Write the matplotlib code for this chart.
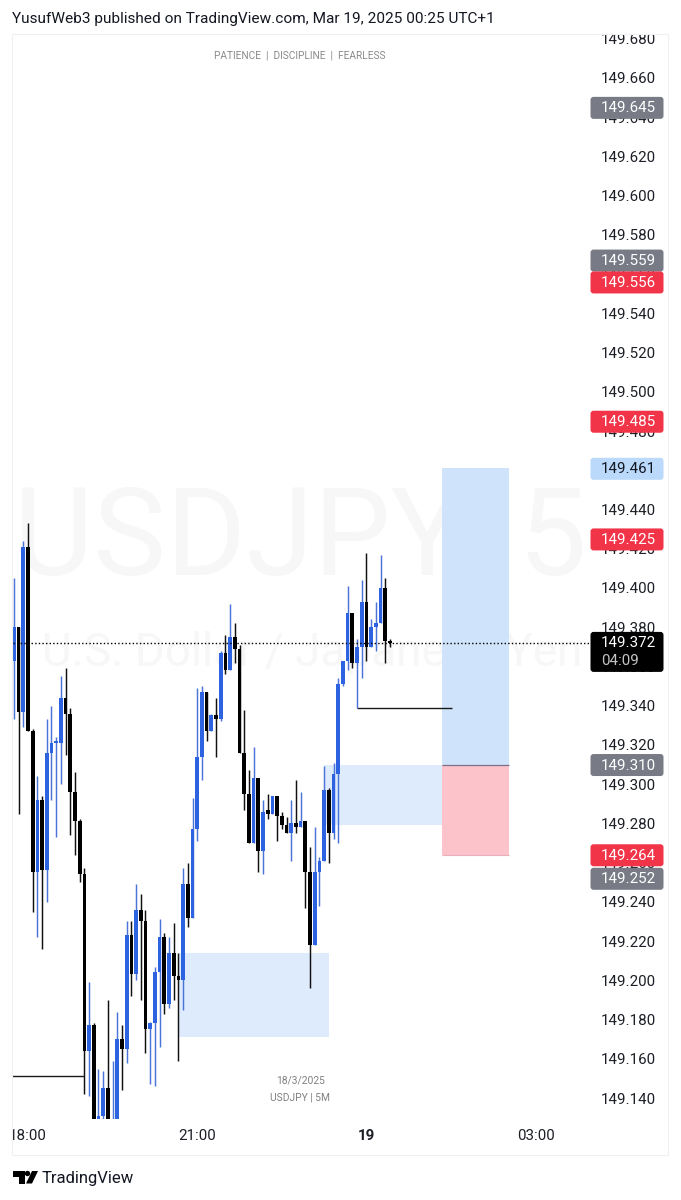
import matplotlib
matplotlib.use("Agg")
import matplotlib.pyplot as plt
from matplotlib.patches import Rectangle, FancyBboxPatch, Polygon, Circle
from matplotlib.transforms import IdentityTransform, Bbox

plt.rcParams['font.family'] = ['Roboto', 'DejaVu Sans']

opens = [149.363,149.380,149.337,149.421,149.327,149.255,149.292,149.256,149.316,149.321,
         149.321,149.344,149.336,149.296,149.281,149.254,149.164,149.177,149.129,149.131,
         149.145,149.105,149.125,149.170,149.165,149.223,149.203,149.236,149.230,149.175,
         149.178,149.204,149.222,149.188,149.214,149.202,149.200,149.249,149.232,149.277,
         149.314,149.347,149.327,149.335,149.333,149.367,149.358,149.375,149.369,149.316,
         149.295,149.270,149.303,149.266,149.287,149.285,149.294,149.284,149.279,149.275,
         149.280,149.278,149.281,149.255,149.218,149.255,149.261,149.297,149.275,149.305,
         149.351,149.363,149.387,149.362,149.370,149.393,149.370,149.380,149.382,149.400,
         149.373]
highs = [149.405,149.380,149.424,149.433,149.328,149.304,149.294,149.333,149.340,149.324,
         149.355,149.359,149.339,149.306,149.282,149.257,149.199,149.178,149.155,149.154,
         149.190,149.159,149.184,149.177,149.230,149.230,149.249,149.244,149.236,149.179,
         149.207,149.231,149.224,149.222,149.229,149.214,149.257,149.260,149.293,149.349,
         149.350,149.347,149.336,149.344,149.368,149.376,149.392,149.382,149.371,149.338,
         149.307,149.319,149.303,149.292,149.295,149.294,149.294,149.286,149.283,149.292,
         149.302,149.296,149.281,149.268,149.278,149.263,149.309,149.298,149.311,149.354,
         149.363,149.401,149.387,149.374,149.404,149.418,149.384,149.393,149.417,149.405,
         149.374]
lows = [149.333,149.285,149.329,149.327,149.235,149.222,149.216,149.240,149.292,149.273,
        149.300,149.315,149.274,149.264,149.250,149.142,149.141,149.120,149.125,149.125,
        149.120,149.100,149.120,149.144,149.158,149.192,149.200,149.190,149.163,149.147,
        149.146,149.166,149.183,149.186,149.190,149.159,149.185,149.227,149.232,149.271,
        149.302,149.322,149.327,149.314,149.332,149.356,149.358,149.362,149.316,149.287,
        149.270,149.270,149.255,149.254,149.282,149.285,149.271,149.277,149.275,149.261,
        149.275,149.278,149.237,149.196,149.218,149.238,149.261,149.260,149.272,149.270,
        149.350,149.358,149.359,149.339,149.354,149.363,149.370,149.368,149.382,149.362,
        149.370]
closes = [149.380,149.337,149.421,149.327,149.255,149.292,149.256,149.316,149.321,149.322,
          149.344,149.336,149.296,149.281,149.254,149.164,149.177,149.129,149.131,149.145,
          149.125,149.122,149.170,149.165,149.223,149.203,149.236,149.230,149.175,149.178,
          149.204,149.222,149.188,149.214,149.202,149.200,149.249,149.232,149.277,149.314,
          149.347,149.327,149.335,149.333,149.367,149.358,149.375,149.369,149.316,149.295,
          149.270,149.303,149.266,149.286,149.285,149.294,149.284,149.279,149.275,149.280,
          149.278,149.281,149.255,149.218,149.255,149.261,149.297,149.275,149.305,149.351,
          149.363,149.387,149.362,149.370,149.393,149.370,149.380,149.382,149.400,149.373,
          149.372]

price_ticks = [149.14,149.16,149.18,149.20,149.22,149.24,149.26,149.28,149.30,149.32,149.34,
               149.36,149.38,149.40,149.42,149.44,149.46,149.48,149.50,149.52,149.54,149.56,
               149.58,149.60,149.62,149.64,149.66,149.68]
time_ticks = [3, 39, 75, 111]
time_labels = ['18:00', '21:00', '19', '03:00']

last_price = 149.372
countdown = '04:09'
tag_prices = [149.645, 149.559, 149.556, 149.485, 149.461, 149.425, 149.310, 149.264, 149.252]
tag_kinds = ['gray', 'gray', 'red', 'red', 'blue', 'red', 'gray', 'red', 'gray']
tag_nudges = [0, -16, 0, 0, 0, 0, 0, 0, 0]

zone_x = [(35, 67), (66, 91.1)]
zone_y = [(149.171, 149.214), (149.279, 149.310)]
pos_x = (91.1, 105.3)
pos_entry, pos_target, pos_stop = 149.310, 149.461, 149.264
level_x = [(-1, 15), (73, 93.2)]
level_y = [149.151, 149.339]

BLUE = '#2d62e0'
W, H = 681, 1200
fig = plt.figure(figsize=(W/100, H/100), dpi=100, facecolor='white')
L, R, T, B = 13, 590, 34, 1119
ax = fig.add_axes([L/W, 1-B/H, (R-L)/W, (B-T)/H])
ax.set_xlim(-0.19, 122.57)
ax.set_ylim(149.1293, 149.6824)
ax.patch.set_alpha(0)
for s in ax.spines.values():
    s.set_visible(False)

def axpx(x, y):
    return (x-L)/(R-L), (B-y)/(B-T)

# watermark
x0, y0 = axpx(300, 574)
ax.text(x0, y0, 'USDJPY, 5', transform=ax.transAxes, ha='center', va='baseline', fontsize=88,
        color='#f7f7f7', zorder=0, clip_on=True)
x0, y0 = axpx(312, 666)
ax.text(x0, y0, 'U.S. Dollar / Japanese Yen', transform=ax.transAxes, ha='center', va='baseline',
        fontsize=33, color='#f7f7f7', zorder=0, clip_on=True)

# zones
for (xa, xb), (ya, yb) in zip(zone_x, zone_y):
    ax.add_patch(Rectangle((xa, ya), xb-xa, yb-ya, fc='#deebfd', ec='none', zorder=1))
ax.add_patch(Rectangle((pos_x[0], pos_entry), pos_x[1]-pos_x[0], pos_target-pos_entry,
                       fc='#cfe3fb', ec='none', zorder=1))
ax.add_patch(Rectangle((pos_x[0], pos_stop), pos_x[1]-pos_x[0], pos_entry-pos_stop,
                       fc='#fcc3cb', ec='none', zorder=1))
ax.plot(pos_x, [pos_entry, pos_entry], color='#7d6f86', lw=0.9, zorder=2, solid_capstyle='butt')
ax.plot(pos_x, [pos_stop, pos_stop], color='#e8b0ba', lw=0.8, zorder=2, solid_capstyle='butt')

# level lines
for (xa, xb), y in zip(level_x, level_y):
    ax.plot([xa, xb], [y, y], color='#1a1a1a', lw=1.0, zorder=3, solid_capstyle='butt')

# candles
for i, (o, h, l, c) in enumerate(zip(opens, highs, lows, closes)):
    col = BLUE if c >= o else '#000000'
    wick = '#4a74d8' if c >= o else '#111111'
    ax.vlines(i, l, h, color=wick, lw=1.05, zorder=4)
    ax.bar(i, abs(c-o), bottom=min(o, c), width=0.8, color=col, linewidth=0, zorder=5)

ax.axhline(last_price, color='#000000', lw=1.0, ls=(0, (1, 1.6)), zorder=6)

# axes ticks
ax.yaxis.tick_right()
ax.set_yticks(price_ticks)
ax.set_yticklabels([f'{p:.3f}' for p in price_ticks])
ax.set_xticks(time_ticks)
ax.set_xticklabels(time_labels)
ax.tick_params(axis='both', length=0, labelsize=10.9, labelcolor='#1c1f26')
ax.tick_params(axis='y', pad=7.9)
ax.tick_params(axis='x', pad=7.5)
panel_box = Bbox.from_extents(13, H-1155, 668, H-34)
for lab in ax.get_yticklabels() + ax.get_xticklabels():
    lab.set_clip_box(panel_box)
    lab.set_clip_on(True)
ax.get_xticklabels()[2].set_fontweight('bold')

idt = IdentityTransform()
def yflip(y):
    return H - y

# panel border
fig.add_artist(Rectangle((12, yflip(1155)), 656, 1121, transform=idt, fc='none', ec='#f0f0f0', lw=0.8, zorder=1))

styles = {'gray': ('#787b86', 'white'), 'red': ('#f23448', 'white'), 'blue': ('#bbd9fb', '#131722')}
for p, kind, nudge in zip(tag_prices, tag_kinds, tag_nudges):
    yd = ax.transData.transform((0, p))[1] - nudge
    fc, tc = styles[kind]
    fig.add_artist(FancyBboxPatch((592, yd-10), 70, 19, transform=idt,
                                  boxstyle='round,pad=1.5,rounding_size=3', fc=fc, ec='none', zorder=2))
    fig.text(601, yd-1, f'{p:.3f}', transform=idt, fontsize=10.9, color=tc, ha='left', va='center', zorder=3)

yd = ax.transData.transform((0, last_price))[1]
fig.add_artist(FancyBboxPatch((592, yd-27.5), 70, 37, transform=idt,
                              boxstyle='round,pad=1.5,rounding_size=3', fc='#000000', ec='none', zorder=2))
fig.text(601, yd-0.5, f'{last_price:.3f}', transform=idt, fontsize=10.9, color='white', ha='left', va='center', zorder=3)
fig.text(601, yd-18.5, countdown, transform=idt, fontsize=10.9, color='#c4c4c4', ha='left', va='center', zorder=3)

# titles and notes
fig.text(12, yflip(19.5), 'YusufWeb3 published on TradingView.com, Mar 19, 2025 00:25 UTC+1', transform=idt,
         fontsize=11.07, color='#131722', ha='left', va='center', zorder=3)
fig.text(300, yflip(56), 'PATIENCE  |  DISCIPLINE  |  FEARLESS', transform=idt, fontsize=7.3, color='#8a8a8a',
         ha='center', va='center', zorder=3)
fig.text(301, yflip(1080), '18/3/2025', transform=idt, fontsize=7.4, color='#808080', ha='center', va='center', zorder=3)
fig.text(300, yflip(1097), 'USDJPY | 5M', transform=idt, fontsize=7.4, color='#808080', ha='center', va='center', zorder=3)

# footer logo
def pxpts(pts):
    return [(x, yflip(y)) for x, y in pts]
fig.add_artist(Polygon(pxpts([(13, 1171), (24.5, 1171), (24.5, 1183.5), (18.5, 1183.5), (18.5, 1176.5), (13, 1176.5)]),
                       transform=idt, fc='#000000', ec='none', zorder=3))
fig.add_artist(Circle((27.5, yflip(1173.5)), 2.7, transform=idt, fc='#000000', ec='none', zorder=3))
fig.add_artist(Polygon(pxpts([(32, 1171), (38, 1171), (32, 1183.5), (26, 1183.5)]),
                       transform=idt, fc='#000000', ec='none', zorder=3))
fig.text(42, yflip(1178), 'TradingView', transform=idt, fontsize=12.0, color='#131722', ha='left', va='center', zorder=3)

fig.savefig('out.png', dpi=100, facecolor='white')
